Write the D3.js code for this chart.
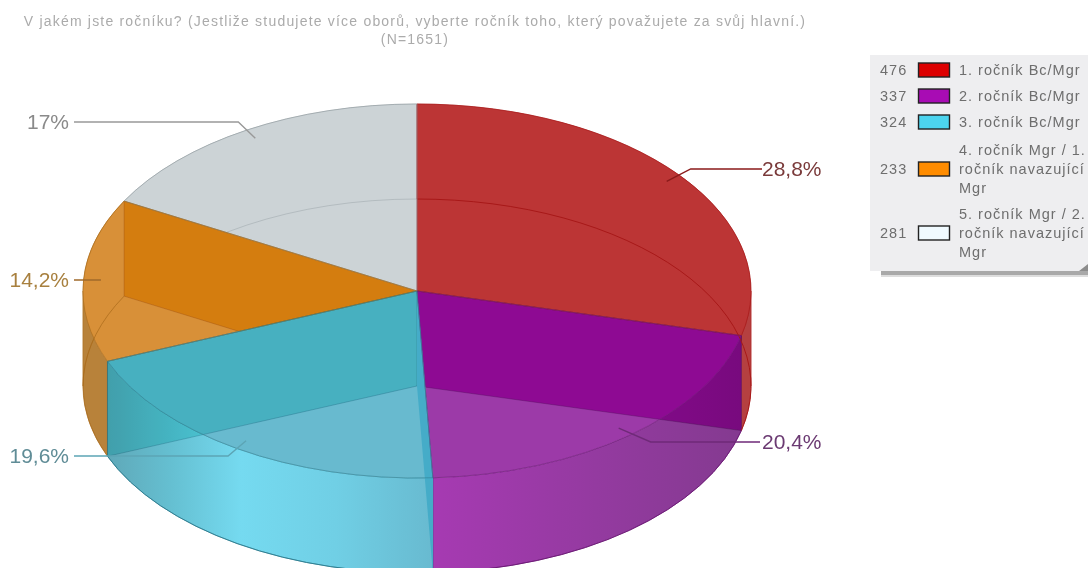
<!DOCTYPE html>
<html>
<head>
<meta charset="utf-8">
<script src="https://cdn.jsdelivr.net/npm/d3@7"></script>
<style>
  body { margin: 0; background: #fff; overflow: hidden; }
  svg { display: block; filter: blur(0.55px); }
  text { font-family: "Liberation Sans", Arial, sans-serif; }
</style>
</head>
<body>
<script>
const w = 1088;
const h = 568;

// data
const categories = ["1. ročník Bc/Mgr", "2. ročník Bc/Mgr", "3. ročník Bc/Mgr", "4. ročník Mgr / 1. ročník navazující Mgr", "5. ročník Mgr / 2. ročník navazující Mgr"];
const counts = [476, 337, 324, 233, 281];
const percentLabels = ["28,8%", "20,4%", "19,6%", "14,2%", "17%"];
const titleLines = ["V jakém jste ročníku? (Jestliže studujete více oborů, vyberte ročník toho, který považujete za svůj hlavní.)", "(N=1651)"];

// styles per slice
const swatch = ["#dd0000", "#a80cb4", "#4cd4ee", "#ff8c00", "#f0faff"];
const topFill = ["#bc3535", "#9c3aa8", "#68bacf", "#d89038", "#ccd3d6"];
const edge = ["#a81818", "#6e1b78", "#2f7f92", "#a86a1a", "#8f999d"];
const labelFill = ["#7a3a3a", "#6b3a72", "#5f8c96", "#a8803f", "#8a8a8a"];
const leaderFill = ["#8b1a1a", "#6f2a78", "#5ca5b5", "#a0692a", "#999999"];
const bandStops = [
  [[0, "#b54040"], [1, "#b54040"]],
  [[0, "#a63ab2"], [1, "#843a90"]],
  [[0, "#5fa8b8"], [0.2, "#65c0d2"], [0.41, "#75daf0"], [0.7, "#70cfe5"], [1, "#68bad0"]],
  [[0, "#b8823a"], [1, "#b8823a"]],
  [[0, "#ccd3d6"], [1, "#ccd3d6"]],
];

// pie geometry
const cx = 417;
const cy = 291;
const rx = 334;
const ry = 187;
const depth = 95;
const TAU = Math.PI * 2;

const svg = d3.select("body").append("svg").attr("width", w).attr("height", h);
const defs = svg.append("defs");

const arcs = d3.pie().sort(null)(counts);

const pt = (a, r = 1, dy = 0) => [cx + rx * r * Math.sin(a), cy + dy - ry * r * Math.cos(a)];
const fmt = (p) => `${p[0].toFixed(2)},${p[1].toFixed(2)}`;
const arcCmd = (from, to, dy = 0) =>
  `A${rx},${ry} 0 ${Math.abs(to - from) > Math.PI ? 1 : 0} ${to > from ? 1 : 0} ${fmt(pt(to, 1, dy))}`;

const facePath = (d, dy = 0) =>
  `M${cx},${cy + dy}L${fmt(pt(d.startAngle, 1, dy))}${arcCmd(d.startAngle, d.endAngle, dy)}Z`;

// outer wall, split at the silhouette (3 and 9 o'clock) so the sides stay vertical.
// one path per piece: the pieces wind opposite ways and would cancel in a single path
const bandPaths = (d) => {
  const cuts = [TAU / 4, (TAU * 3) / 4].filter((c) => c > d.startAngle && c < d.endAngle);
  const stops = [d.startAngle, ...cuts, d.endAngle];
  return d3.pairs(stops).map(([a, b]) =>
    `M${fmt(pt(a))}${arcCmd(a, b)}L${fmt(pt(b, 1, depth))}${arcCmd(b, a, depth)}Z`
  );
};

const wallPath = (a) =>
  `M${cx},${cy}L${fmt(pt(a))}L${fmt(pt(a, 1, depth))}L${cx},${cy + depth}Z`;

const rimPath = (d) => `M${fmt(pt(d.startAngle, 1, depth))}${arcCmd(d.startAngle, d.endAngle, depth)}`;

// gradients for the outer walls
arcs.forEach((d, i) => {
  const xs = d3.range(d.startAngle, d.endAngle, 0.01).concat(d.endAngle).map((a) => pt(a)[0]);
  const [x1, x2] = d3.extent(xs);
  const grad = defs.append("linearGradient")
    .attr("id", `band${i}`)
    .attr("gradientUnits", "userSpaceOnUse")
    .attr("x1", x1).attr("x2", x2).attr("y1", 0).attr("y2", 0);
  grad.selectAll("stop").data(bandStops[i]).enter().append("stop")
    .attr("offset", (s) => s[0])
    .attr("stop-color", (s) => s[1]);
});

const pieG = svg.append("g");

// walls seen through the top face, tinted by multiply
const wallTint = { 1: ["startAngle", "#e82ce0"], 2: ["endAngle", "#aef1ed"], 3: ["endAngle", "#fbde43"] };

[4, 0, 3, 1, 2].forEach((i) => {
  const d = arcs[i];
  bandPaths(d).forEach((p) => {
    pieG.append("path").attr("d", p)
      .attr("fill", `url(#band${i})`)
      .attr("stroke", edge[i]).attr("stroke-opacity", 0.6).attr("stroke-width", 0.8);
  });
  pieG.append("path").attr("d", facePath(d)).attr("fill", topFill[i]);
  if (i === 4) {
    // faint rim of the bottom face, hidden again by the orange slice
    pieG.append("path").attr("d", rimPath(d)).attr("fill", "none")
      .attr("stroke", edge[i]).attr("stroke-opacity", 0.4);
  }
  if (wallTint[i]) {
    pieG.append("path")
      .attr("d", wallPath(d[wallTint[i][0]]))
      .attr("fill", wallTint[i][1])
      .attr("stroke", edge[i]).attr("stroke-opacity", 0.4).attr("stroke-width", 0.8)
      .style("mix-blend-mode", "multiply");
  }
});

// thin cyan wall facing us, opaque
pieG.append("path").attr("d", wallPath(arcs[2].startAngle)).attr("fill", "#45acc8");

// edges: rim of the bottom face seen through the pie, then the top face
[0, 4, 3, 1, 2].forEach((i) => {
  const d = arcs[i];
  if (i !== 4) {
    pieG.append("path")
      .attr("d", rimPath(d))
      .attr("fill", "none")
      .attr("stroke", edge[i])
      .attr("stroke-opacity", i === 3 ? 0.7 : 1)
      .attr("stroke-width", 1);
  }
  pieG.append("path")
    .attr("d", facePath(d))
    .attr("fill", "none")
    .attr("stroke", edge[i])
    .attr("stroke-opacity", 0.75)
    .attr("stroke-width", 0.8);
});

// leaders: y of the label row and horizontal run of the elbow
const leaderLayout = [
  { y: 169, run: 24, end: 762 },
  { y: 442, run: 32, end: 760 },
  { y: 456, run: 18, end: 74 },
  { y: 280, run: 0, end: 74 },
  { y: 122, run: 17, end: 74 },
];

arcs.forEach((d, i) => {
  const mid = (d.startAngle + d.endAngle) / 2;
  const a = pt(mid, 0.95);
  const side = Math.sin(mid) > 0 ? 1 : -1;
  const lay = leaderLayout[i];
  svg.append("polyline")
    .attr("points", [a, [a[0] + side * lay.run, lay.y], [lay.end, lay.y]].map(fmt).join(" "))
    .attr("fill", "none")
    .attr("stroke", leaderFill[i])
    .attr("stroke-width", 1.4);
  svg.append("text")
    .attr("x", side > 0 ? 762 : lay.end - 5)
    .attr("y", lay.y - 0.5)
    .attr("dy", "0.35em")
    .attr("text-anchor", side > 0 ? "start" : "end")
    .attr("font-size", 21)
    .attr("fill", labelFill[i])
    .text(percentLabels[i]);
});

// title
svg.selectAll(".title").data(titleLines).enter().append("text")
  .attr("class", "title")
  .attr("x", 415)
  .attr("y", (d, i) => 26 + i * 17.5)
  .attr("text-anchor", "middle")
  .attr("font-size", 14)
  .attr("letter-spacing", 1.2)
  .attr("fill", "#ababab")
  .text((d) => d);

// legend
const legend = svg.append("g");
legend.append("rect").attr("x", 881).attr("y", 271).attr("width", 207).attr("height", 4).attr("fill", "#a9a9a9");
legend.append("rect").attr("x", 881).attr("y", 275).attr("width", 207).attr("height", 2).attr("fill", "#dddddd");
legend.append("path").attr("d", "M870,55H1088V264L1079,271H870Z").attr("fill", "#eeeef0");
legend.append("path").attr("d", "M1088,264L1079,271H1088Z").attr("fill", "#8c8c8c");

const legendLines = [[categories[0]], [categories[1]], [categories[2]],
  ["4. ročník Mgr / 1.", "ročník navazující", "Mgr"],
  ["5. ročník Mgr / 2.", "ročník navazující", "Mgr"]];
const legendY = [70, 96, 122, 169, 233];

counts.forEach((v, i) => {
  const y = legendY[i];
  legend.append("text").attr("x", 880).attr("y", y).attr("dy", "0.35em")
    .attr("font-size", 14.5).attr("letter-spacing", 1).attr("fill", "#6e6e6e").text(v);
  legend.append("rect").attr("x", 918.5).attr("y", y - 7).attr("width", 31).attr("height", 14)
    .attr("fill", swatch[i]).attr("stroke", "#222").attr("stroke-width", 1.4);
  const lines = legendLines[i];
  lines.forEach((t, j) => {
    legend.append("text").attr("x", 959)
      .attr("y", y + (j - (lines.length - 1) / 2) * 19)
      .attr("dy", "0.35em")
      .attr("font-size", 14.5).attr("letter-spacing", 1).attr("fill", "#6e6e6e").text(t);
  });
});
</script>
</body>
</html>
